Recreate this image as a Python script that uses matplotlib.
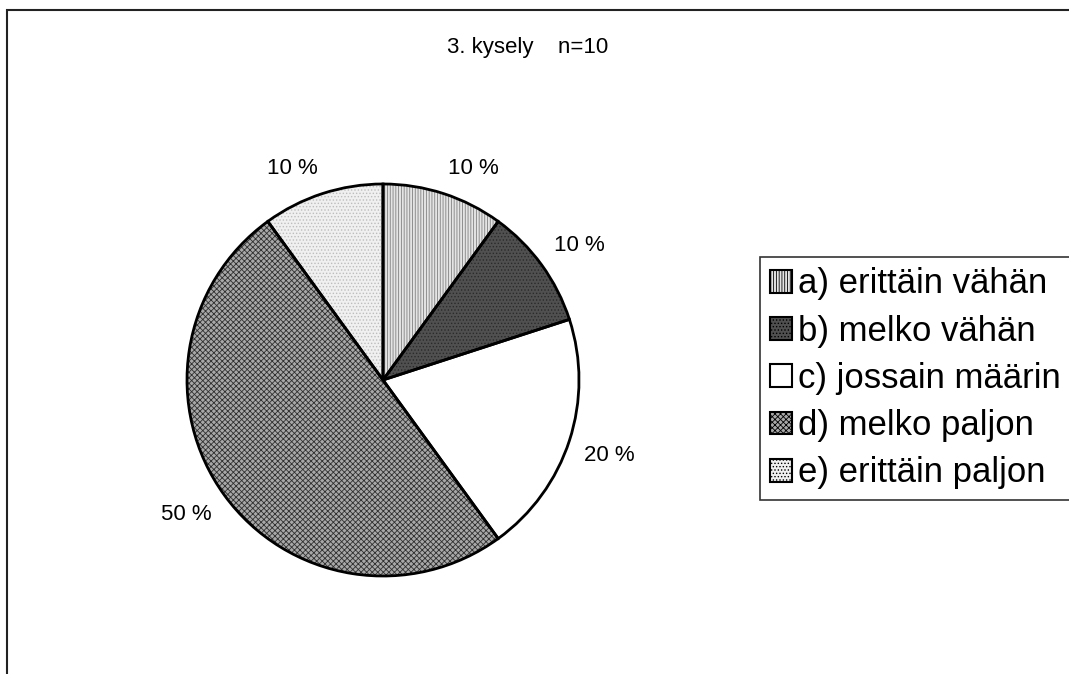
import numpy as np
import matplotlib.pyplot as plt
from matplotlib.patches import Rectangle

plt.rcParams['font.family'] = ['Liberation Sans', 'DejaVu Sans']
plt.rcParams['hatch.linewidth'] = 0.6

# data
labels = ['a) erittäin vähän', 'b) melko vähän', 'c) jossain määrin',
          'd) melko paljon', 'e) erittäin paljon']
values = [10, 10, 20, 50, 10]
title = '3. kysely    n=10'

colors = ['#e4e4e4', '#505050', '#ffffff', '#a8a8a8', '#f0f0f0']
hatches = ['||||||', '.....', '', 'xxxxxx', '.....']
hatch_cols = ['#808080', '#2a2a2a', '#ffffff', '#303030', '#bdbdbd']

W, H = 1069, 674
fig = plt.figure(figsize=(W / 100, H / 100), dpi=100)

# outer frame (right and bottom edges fall outside the picture)
fig.patches.append(Rectangle((7 / W, -0.2), 1.2, (H - 10) / H + 0.2,
                             transform=fig.transFigure, fill=False,
                             edgecolor='#222222', lw=1.5))

cx, cy, r = 383, 380, 196
ax = fig.add_axes([(cx - r) / W, (H - cy - r) / H, 2 * r / W, 2 * r / H])

wedges, _ = ax.pie(values, startangle=90, counterclock=False, colors=colors)
for w, h, hc in zip(wedges, hatches, hatch_cols):
    w.set_hatch(h)
    w.set_edgecolor(hc)
    w.set_linewidth(0)
# black outlines on top
outl, _ = ax.pie(values, startangle=90, counterclock=False,
                 wedgeprops=dict(fill=False, edgecolor='black', linewidth=2))

# percentage labels just outside the pie, anchored at the corner nearest it
total = sum(values)
for w, v in zip(wedges, values):
    th = np.deg2rad((w.theta1 + w.theta2) / 2)
    x, y = 1.08 * np.cos(th), 1.08 * np.sin(th)
    ax.text(x, y, '%d %%' % round(100 * v / total), fontsize=16,
            ha='left' if x > 0 else 'right', va='bottom' if y > 0 else 'top')

ax.set_xlim(-1, 1)
ax.set_ylim(-1, 1)
ax.set_aspect('equal')
ax.axis('off')

fig.text(528 / W, 1 - 47 / H, title, ha='center', va='center', fontsize=16)

leg = fig.legend(wedges, labels, loc='upper left',
                 bbox_to_anchor=(760 / W, 1 - 257 / H),
                 fontsize=25, frameon=True, fancybox=False,
                 handlelength=0.63, handleheight=0.63, handletextpad=0.15,
                 borderpad=0.3, labelspacing=0.41, borderaxespad=0)
leg.get_frame().set_edgecolor('black')
leg.get_frame().set_linewidth(1.2)
for h in leg.legend_handles:
    h.set_edgecolor('black')
    h.set_linewidth(1.5)

fig.savefig('out.png', dpi=100)
